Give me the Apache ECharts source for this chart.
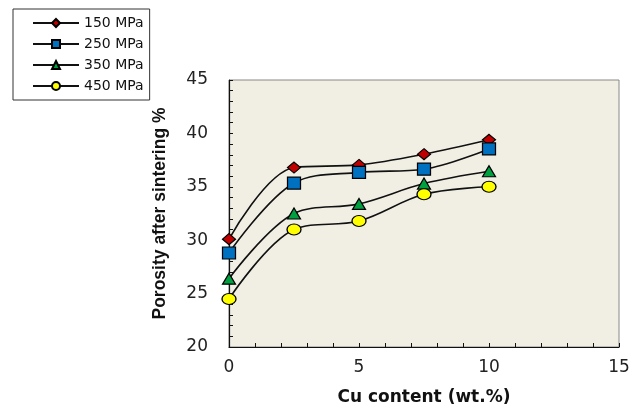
<!DOCTYPE html>
<html><head><meta charset="utf-8">
<script src="https://cdn.jsdelivr.net/npm/echarts@6/dist/echarts.min.js"></script>
<style>html,body{margin:0;padding:0;background:#fff}#c{width:644px;height:411px}</style>
</head><body><div id="c"></div>
<script>
const cuContent = [0, 2.5, 5, 7.5, 10];
const p150 = [30.1, 36.8, 37.05, 38.05, 39.4];
const p250 = [28.8, 35.35, 36.35, 36.65, 38.55];
const p350 = [26.4, 32.5, 33.4, 35.3, 36.45];
const p450 = [24.5, 31.0, 31.8, 34.3, 35.0];
const seriesNames = ['150 MPa', '250 MPa', '350 MPa', '450 MPa'];

const FONT = 'DejaVu Sans, Liberation Sans, Arial, sans-serif';
const FONT2 = 'Liberation Sans, Arial, sans-serif';
const chart = echarts.init(document.getElementById('c'));
const mk = (name, vals, symbol, size, color) => ({
  name, type: 'line', smooth: 0.35,
  data: cuContent.map((x, i) => [x, vals[i]]),
  symbol, symbolSize: size,
  lineStyle: { color: '#111', width: 1.6 },
  itemStyle: { color: color, borderColor: '#000', borderWidth: 1.2 },
  z: 3
});
chart.setOption({
  animation: false,
  textStyle: { fontFamily: FONT },
  legend: {
    orient: 'vertical', left: 13, top: 9,
    padding: [6, 6, 6, 19], itemGap: 5, itemWidth: 46, itemHeight: 10,
    borderColor: '#333', borderWidth: 1, backgroundColor: '#fff',
    textStyle: { fontSize: 14, lineHeight: 16, color: '#111', fontFamily: FONT },
    data: seriesNames
  },
  grid: { left: 229, right: 25, top: 80, bottom: 58, show: true,
    backgroundColor: '#F1EFE4', borderColor: '#888', borderWidth: 1 },
  xAxis: {
    type: 'value', min: 0, max: 15, interval: 5,
    name: 'Cu content (wt.%)', nameLocation: 'middle', nameGap: 42,
    nameTextStyle: { fontSize: 17, fontWeight: 'bold', color: '#111', fontFamily: FONT },
    axisLine: { lineStyle: { color: '#111', width: 1.2 } },
    axisTick: { inside: true, length: 4, lineStyle: { color: '#111' } },
    minorTick: { show: true, splitNumber: 5, length: 4, lineStyle: { color: '#111' } },
    axisLabel: { fontSize: 17, color: '#222', margin: 12, fontFamily: FONT },
    splitLine: { show: false }
  },
  yAxis: {
    type: 'value', min: 20, max: 45, interval: 5,
    name: 'Porosity after sintering %', nameLocation: 'middle', nameGap: 60,
    nameTextStyle: { fontSize: 17.5, fontWeight: 'bold', color: '#111', fontFamily: FONT2 },
    axisLine: { show: true, lineStyle: { color: '#111', width: 1.2 } },
    axisTick: { show: true, inside: true, length: 4, lineStyle: { color: '#111' } },
    minorTick: { show: true, splitNumber: 5, length: 4, lineStyle: { color: '#111' } },
    axisLabel: { fontSize: 17, color: '#222', margin: 21, fontFamily: FONT },
    splitLine: { show: false }
  },
  series: [
    mk(seriesNames[0], p150, 'diamond', [13, 11], '#C00000'),
    mk(seriesNames[1], p250, 'rect', [13, 12], '#0070C0'),
    mk(seriesNames[2], p350, 'triangle', [13, 11], '#00A040'),
    mk(seriesNames[3], p450, 'circle', [14, 11], '#FFFF00')
  ]
});
</script></body></html>
